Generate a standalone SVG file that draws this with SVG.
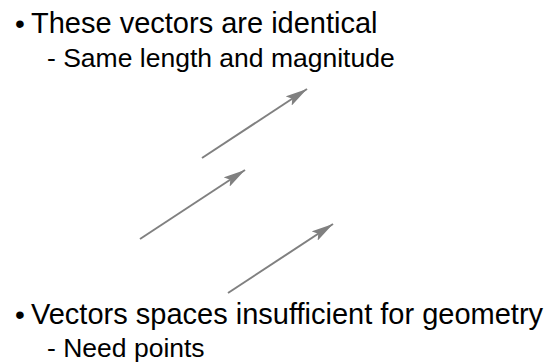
<svg xmlns="http://www.w3.org/2000/svg" width="554" height="363" viewBox="0 0 554 363">
<style>
.t1{font-family:"Liberation Sans",Arial,sans-serif;font-size:29px;fill:#000}
.t2{font-family:"Liberation Sans",Arial,sans-serif;font-size:26.5px;fill:#000}
.b{font-family:"Liberation Sans",Arial,sans-serif;font-size:28px;fill:#000}
.vec{stroke:#808080;stroke-width:2;fill:none;marker-end:url(#ah)}
</style>
<defs>
<marker id="ah" viewBox="0 0 20 10" refX="20" refY="5" markerWidth="11" markerHeight="5.8" orient="auto" markerUnits="strokeWidth">
<path d="M0,0 L20,5 L0,10 L4,5 Z" fill="#808080"/>
</marker>
</defs>
<g id="text-top">
<text class="b" x="15" y="33">•</text>
<text class="t1" x="31" y="33">These vectors are identical</text>
<text class="t2" x="47" y="67">- Same length and magnitude</text>
</g>
<g id="connectors">
<line class="vec" x1="202" y1="158" x2="307" y2="89"/>
<line class="vec" x1="140" y1="239" x2="245" y2="170"/>
<line class="vec" x1="228" y1="293" x2="333" y2="224"/>
</g>
<g id="text-bottom">
<text class="b" x="15" y="324">•</text>
<text class="t1" x="31" y="324">Vectors spaces insufficient for geometry</text>
<text class="t2" x="47" y="357">- Need points</text>
</g>
</svg>
